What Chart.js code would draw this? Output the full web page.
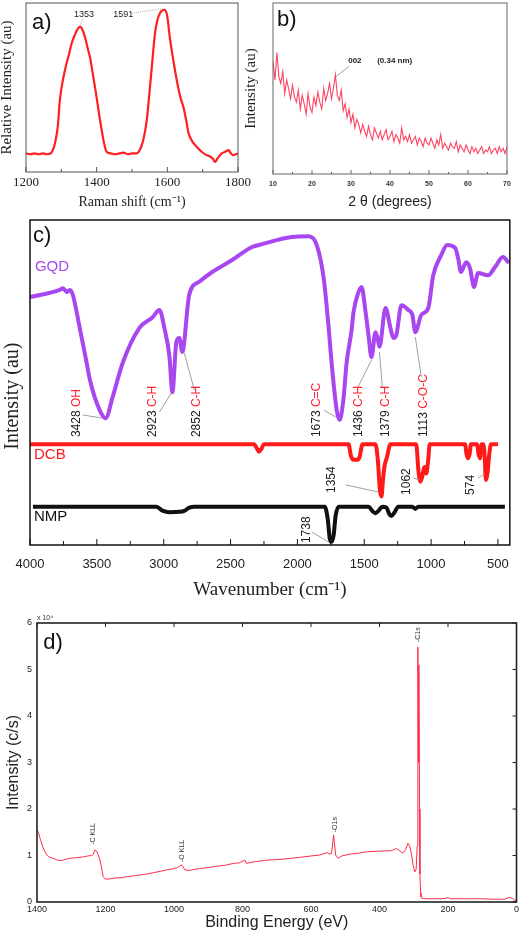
<!DOCTYPE html>
<html>
<head>
<meta charset="utf-8">
<script src="https://cdn.jsdelivr.net/npm/chart.js@4.4.1/dist/chart.umd.min.js"></script>
<style>
  html, body { margin: 0; padding: 0; background: #fff; }
  body { width: 521px; height: 941px; position: relative; overflow: hidden; }
  canvas { position: absolute; }
</style>
</head>
<body>
<canvas id="raman" width="260" height="212" style="left:0px;top:0px"></canvas>
<canvas id="xrd" width="277" height="212" style="left:244px;top:0px"></canvas>
<canvas id="ftir" width="521" height="388" style="left:0px;top:212px"></canvas>
<canvas id="xps" width="521" height="341" style="left:0px;top:600px"></canvas>
<script>
// a) Raman spectrum
const ramanShift = [1200,1212,1224,1236,1248,1260,1270,1276,1282,1290,
  1296,1305,1315,1322,1329,1338,1346,1353,1360,1368,
  1376,1381,1386,1393,1400,1407,1414,1421,1428,1440,
  1452,1464,1476,1488,1500,1512,1522,1532,1542,1549,
  1556,1565,1572,1579,1585,1591,1599,1608,1617,1627,
  1636,1646,1653,1660,1671,1683,1697,1711,1722,1730,
  1735,1742,1754,1764,1773,1780,1787,1800];
const ramanIntensity = [0.11,0.105,0.11,0.105,0.11,0.105,0.11,0.13,0.17,0.27,
  0.43,0.55,0.645,0.7,0.76,0.81,0.845,0.86,0.84,0.79,
  0.72,0.68,0.62,0.53,0.44,0.34,0.25,0.17,0.12,0.11,
  0.105,0.11,0.115,0.105,0.11,0.11,0.13,0.19,0.31,0.46,
  0.62,0.82,0.9,0.94,0.955,0.96,0.93,0.78,0.66,0.54,
  0.45,0.38,0.31,0.23,0.18,0.15,0.12,0.10,0.09,0.075,
  0.06,0.08,0.11,0.12,0.13,0.11,0.10,0.11];
const ramanTicks = [1200,1300,1400,1500,1600,1700,1800];

// b) XRD pattern
const xrdAngle = [10,10.5,11,11.5,12,12.5,13,13.5,14,14.5,
  15,15.5,16,16.5,17,17.5,18,18.5,19,19.5,
  20,20.5,21,21.5,22,22.5,23,23.5,24,24.5,
  25,25.5,26,26.5,27,27.5,28,28.5,29,29.5,
  30,30.5,31,31.5,32,32.5,33,33.5,34,34.5,
  35,35.5,36,36.5,37,37.5,38,38.5,39,39.5,
  40,40.5,41,41.5,42,42.5,43,43.5,44,44.5,
  45,45.5,46,46.5,47,47.5,48,48.5,49,49.5,
  50,50.5,51,51.5,52,52.5,53,53.5,54,54.5,
  55,55.5,56,56.5,57,57.5,58,58.5,59,59.5,
  60,60.5,61,61.5,62,62.5,63,63.5,64,64.5,
  65,65.5,66,66.5,67,67.5,68,68.5,69,69.5,
  70];
const xrdIntensity = [0.66,0.55,0.71,0.57,0.53,0.60,0.47,0.55,0.50,0.44,
  0.52,0.45,0.42,0.49,0.38,0.46,0.41,0.35,0.47,0.39,
  0.36,0.45,0.40,0.48,0.42,0.38,0.50,0.43,0.47,0.53,
  0.44,0.50,0.58,0.46,0.43,0.49,0.37,0.41,0.33,0.38,
  0.30,0.35,0.27,0.32,0.29,0.24,0.29,0.25,0.22,0.28,
  0.23,0.20,0.27,0.24,0.21,0.25,0.20,0.23,0.26,0.20,
  0.22,0.25,0.19,0.23,0.21,0.18,0.27,0.20,0.22,0.19,
  0.23,0.18,0.20,0.22,0.17,0.21,0.19,0.16,0.21,0.18,
  0.17,0.21,0.18,0.15,0.20,0.17,0.23,0.15,0.18,0.16,
  0.14,0.18,0.16,0.15,0.19,0.13,0.17,0.15,0.13,0.17,
  0.14,0.12,0.16,0.13,0.15,0.12,0.14,0.16,0.12,0.14,
  0.13,0.16,0.12,0.14,0.15,0.12,0.16,0.13,0.15,0.12,
  0.16];
const xrdTicks = [10,15,20,25,30,35,40,45,50,55,60,65,70];

// c) FTIR spectra
const gqdWavenumber = [4000,3777,3754,3724,3702,3680,3628,3576,3553,3479,
  3434,3382,3307,3181,3084,3032,2995,2957,2935,2905,
  2883,2861,2809,2734,2637,2488,2339,2287,2042,1915,
  1855,1803,1766,1744,1706,1684,1654,1632,1595,1580,
  1543,1520,1490,1468,1446,1416,1401,1386,1341,1304,
  1282,1260,1222,1170,1140,1118,1073,1021,984,924,
  880,820,798,776,738,709,679,649,574,522,
  463,418];
const gqdSignal = [76.3,78.5,79,77.8,78.5,77,66.8,56,51,41.5,
  39,45.5,56,66.8,70,72.3,66.8,58,47,62.5,
  63.7,59.4,77,81,84,87.7,91.7,92.3,94.8,95,
  92.3,82,66.8,56,41.5,38.5,45.5,56,66,71.7,
  77.8,79.4,71.7,64.6,57.8,65.5,63.7,61,72.9,66.8,
  63.7,64.6,73.8,72.3,70.8,65.5,70.8,72.9,83,89.2,
  92.3,91.4,88.3,84,87,85.2,79.4,83.7,83,85.5,
  88.6,86.8];
const dcbWavenumber = [4000,2325,2300,2287,2270,2250,1617,1600,1580,1557,
  1535,1513,1416,1398,1383,1371,1360,1349,1330,1304,
  1111,1095,1080,1066,1051,1036,1022,1010,746,735,
  724,712,701,657,645,634,622,610,600,590,
  578,567,552,500];
const dcbSignal = [31,31,29.5,28.7,29.5,31,31,27.5,26.2,26.2,
  27,31,31,26,17,14.9,20,24.1,27,31,
  31,23,19.5,21,24,22,26,31,31,28,
  26.7,28,31,31,28,26.7,31,31,28,20,
  22,27,31,31];
const nmpWavenumber = [3978,3054,3010,2957,2883,2846,2809,2771,1796,1773,
  1758,1744,1729,1714,1691,1468,1438,1416,1394,1364,
  1334,1312,1297,1274,1245,1140,1118,1096,448];
const nmpSignal = [11.8,11.8,10.6,10.1,10.2,10.5,11.5,11.8,11.8,8,
  2,1,3,9,11.8,11.8,10.4,9.8,10.5,11.8,
  11.5,9.5,8.9,10,11.8,11.8,11.1,11.8,11.8];
const ftirTicks = [4000,3750,3500,3250,3000,2750,2500,2250,2000,1750,1500,1250,1000,750,500];

// d) XPS survey
const xpsEnergy = [1400,1395,1391,1384,1377,1370,1362,1350,1340,1328,
  1316,1304,1290,1278,1265,1252,1241,1236,1231,1227,
  1223,1216,1211,1207,1202,1197,1185,1170,1155,1140,
  1119,1100,1080,1060,1040,1022,1000,990,978,968,
  955,940,925,900,875,850,827,810,793,789,
  770,750,730,700,670,633,600,575,555,545,
  540,534,528,521,510,487,460,438,410,385,
  370,360,351,341,332,324,317,312,307,302,
  297,293,290,288,286,285,283,282,280,279,
  276,260,240,220,205,200,195,170,140,120,
  98,70,50,35,20,12,6,0];
const xpsCounts = [1.55,1.48,1.37,1.2,1.08,1.0,0.96,0.93,0.9,0.89,
  0.92,0.94,0.95,0.96,0.97,0.99,1.0,1.02,1.12,1.1,
  1.05,0.9,0.72,0.55,0.5,0.49,0.5,0.52,0.52,0.54,
  0.56,0.58,0.6,0.63,0.66,0.69,0.72,0.74,0.8,0.69,
  0.68,0.7,0.72,0.74,0.77,0.79,0.83,0.84,0.9,0.83,
  0.86,0.88,0.9,0.91,0.93,0.96,0.99,1.01,1.06,1.03,
  1.04,1.44,1.01,0.94,0.99,1.03,1.05,1.08,1.09,1.1,
  1.1,1.12,1.15,1.1,1.05,1.12,1.26,1.2,1.05,0.8,
  0.65,0.7,1.2,5.48,3.0,5.1,2.0,0.6,0.2,0.11,
  0.08,0.07,0.07,0.07,0.08,0.1,0.07,0.07,0.07,0.07,
  0.07,0.06,0.06,0.06,0.1,0.08,0.04,0.03];
const xpsTicks = [1400,1200,1000,800,600,400,200,0];
const xpsCountTicks = [0,1,2,3,4,5,6];

Chart.defaults.font.family = "'Liberation Sans', Arial, sans-serif";
Chart.defaults.color = '#222';

const pts = (xs, ys) => xs.map((x, i) => ({ x: x, y: ys[i] }));
const SERIF = "'Liberation Serif', 'Times New Roman', serif";
const RED = '#ff2030';
const noGrid = { display: false, drawTicks: false };

// box round the plot + inward tick marks
const framePlugin = {
  id: 'frame',
  afterDatasetsDraw(chart, args, opts) {
    const ctx = chart.ctx, a = chart.chartArea;
    ctx.save();
    ctx.strokeStyle = opts.color;
    ctx.lineWidth = opts.width;
    ctx.strokeRect(a.left, a.top, a.right - a.left, a.bottom - a.top);
    ctx.lineWidth = 1;
    (opts.marks || []).forEach(m => {
      const scale = chart.scales[m.axis];
      scale.ticks.forEach(t => {
        const len = (t.value % m.major === 0) ? m.len : m.minorLen;
        if (!len) return;
        const p = scale.getPixelForValue(t.value);
        ctx.beginPath();
        if (m.side === 'bottom') { ctx.moveTo(p, a.bottom); ctx.lineTo(p, a.bottom - len); }
        if (m.side === 'top') { ctx.moveTo(p, a.top); ctx.lineTo(p, a.top + len); }
        if (m.side === 'right') { ctx.moveTo(a.right, p); ctx.lineTo(a.right - len, p); }
        ctx.stroke();
      });
    });
    ctx.restore();
  }
};

// text labels and leader lines placed in data units
const notesPlugin = {
  id: 'notes',
  afterDraw(chart, args, opts) {
    const ctx = chart.ctx, sx = chart.scales.x, sy = chart.scales.y;
    ctx.save();
    (opts.lines || []).forEach(l => {
      ctx.strokeStyle = l.color || '#888';
      ctx.lineWidth = l.width || 0.8;
      ctx.setLineDash(l.dash || []);
      ctx.beginPath();
      ctx.moveTo(sx.getPixelForValue(l.x1), sy.getPixelForValue(l.y1));
      ctx.lineTo(sx.getPixelForValue(l.x2), sy.getPixelForValue(l.y2));
      ctx.stroke();
    });
    ctx.setLineDash([]);
    (opts.labels || []).forEach(n => {
      ctx.save();
      ctx.translate(sx.getPixelForValue(n.x), sy.getPixelForValue(n.y));
      if (n.rotate) ctx.rotate(n.rotate * Math.PI / 180);
      ctx.font = n.font;
      ctx.textBaseline = 'middle';
      ctx.textAlign = 'left';
      const parts = n.parts || [{ text: n.text, color: n.color || '#222' }];
      const total = parts.reduce((s, p) => s + ctx.measureText(p.text).width, 0);
      let x = n.align === 'center' ? -total / 2 : 0;
      parts.forEach(p => {
        ctx.fillStyle = p.color;
        ctx.fillText(p.text, x, 0);
        x += ctx.measureText(p.text).width;
      });
      ctx.restore();
    });
    ctx.restore();
  }
};

Chart.register(framePlugin, notesPlugin);

const noChrome = { legend: { display: false }, tooltip: { enabled: false } };

function vLabel(num, group, x, y) {
  return { x: x, y: y, rotate: -90, font: '12px Liberation Sans',
    parts: [{ text: num + ' ', color: '#222' }, { text: group, color: RED }] };
}
function vNum(num, x, y) {
  return { x: x, y: y, rotate: -90, font: '12px Liberation Sans', text: num, color: '#222' };
}

// ---- a) Raman
new Chart(document.getElementById('raman'), {
  type: 'line',
  data: { datasets: [{ data: pts(ramanShift, ramanIntensity), borderColor: '#ff1f1f', borderWidth: 2.2,
    pointRadius: 0, cubicInterpolationMode: 'monotone' }] },
  options: {
    responsive: false, animation: false,
    layout: { padding: { top: 3, right: 22, left: 0, bottom: 0 } },
    plugins: Object.assign({}, noChrome, {
      frame: { color: '#555', width: 1, marks: [{ axis: 'x', side: 'bottom', major: 200, len: 5, minorLen: 3 }] },
      notes: {
        labels: [
          { text: 'a)', x: 1217, y: 0.88, font: '22px Liberation Sans', color: '#111' },
          { text: '1353', x: 1364, y: 0.933, font: '9px Liberation Sans', align: 'center' },
          { text: '1591', x: 1475, y: 0.933, font: '9px Liberation Sans', align: 'center' }
        ],
        lines: [
          { x1: 1361, y1: 0.905, x2: 1353, y2: 0.87, dash: [1, 1], color: '#999' },
          { x1: 1500, y1: 0.94, x2: 1582, y2: 0.965, dash: [1, 1], color: '#999' }
        ]
      }
    }),
    scales: {
      x: {
        type: 'linear', min: 1200, max: 1800,
        grid: noGrid, border: { display: false },
        afterBuildTicks: s => { s.ticks = ramanTicks.map(v => ({ value: v })); },
        afterFit: s => { s.height = 40; },
        ticks: { font: { family: SERIF, size: 13 }, color: '#222', padding: 3, maxRotation: 0, autoSkip: false,
          callback: v => (v % 200 === 0 ? String(v) : '') },
        title: { display: true, text: 'Raman shift (cm⁻¹)', font: { family: SERIF, size: 14 }, color: '#222',
          padding: { top: 0, bottom: 1 } }
      },
      y: {
        min: 0, max: 1,
        grid: noGrid, border: { display: false }, ticks: { display: false },
        afterFit: s => { s.width = 26; },
        title: { display: true, text: 'Relative Intensity (au)', font: { family: SERIF, size: 15, lineHeight: 1 },
          color: '#222', padding: { top: 0, bottom: 0 } }
      }
    }
  }
});

// ---- b) XRD
new Chart(document.getElementById('xrd'), {
  type: 'line',
  data: { datasets: [{ data: pts(xrdAngle, xrdIntensity), borderColor: 'rgba(255,35,70,0.85)', borderWidth: 1.1,
    pointRadius: 0, tension: 0 }] },
  options: {
    responsive: false, animation: false,
    layout: { padding: { top: 3, right: 14, left: 0, bottom: 0 } },
    plugins: Object.assign({}, noChrome, {
      frame: { color: '#666', width: 1, marks: [{ axis: 'x', side: 'bottom', major: 10, len: 4, minorLen: 2 }] },
      notes: {
        labels: [
          { text: 'b)', x: 11, y: 0.9, font: '22px Liberation Sans', color: '#111' },
          { text: '002', x: 31, y: 0.66, font: 'bold 8px Liberation Sans', align: 'center' },
          { text: '(0.34 nm)', x: 36.7, y: 0.66, font: 'bold 8px Liberation Sans' }
        ],
        lines: [{ x1: 29.5, y1: 0.63, x2: 26.2, y2: 0.57, color: '#888' }]
      }
    }),
    scales: {
      x: {
        type: 'linear', min: 10, max: 70,
        grid: noGrid, border: { display: false },
        afterBuildTicks: s => { s.ticks = xrdTicks.map(v => ({ value: v })); },
        afterFit: s => { s.height = 38; },
        ticks: { font: { size: 7, weight: 'bold' }, color: '#333', padding: 6, maxRotation: 0, autoSkip: false,
          callback: v => (v % 10 === 0 ? String(v) : '') },
        title: { display: true, text: '2 θ (degrees)', font: { size: 14 }, color: '#222', padding: { top: 0, bottom: 1 } }
      },
      y: {
        min: 0, max: 1,
        grid: noGrid, border: { display: false }, ticks: { display: false },
        afterFit: s => { s.width = 29; },
        title: { display: true, text: 'Intensity (au)', font: { family: SERIF, size: 15, lineHeight: 1 },
          color: '#222', padding: { top: 0, bottom: 0 } }
      }
    }
  }
});

// ---- c) FTIR
new Chart(document.getElementById('ftir'), {
  type: 'line',
  data: { datasets: [
    { data: pts(gqdWavenumber, gqdSignal), borderColor: '#a846f0', borderWidth: 4, pointRadius: 0,
      cubicInterpolationMode: 'monotone', borderJoinStyle: 'round' },
    { data: pts(dcbWavenumber, dcbSignal), borderColor: '#ff1a1a', borderWidth: 4, pointRadius: 0,
      cubicInterpolationMode: 'monotone', borderJoinStyle: 'round' },
    { data: pts(nmpWavenumber, nmpSignal), borderColor: '#111', borderWidth: 4, pointRadius: 0,
      cubicInterpolationMode: 'monotone', borderJoinStyle: 'round' }
  ] },
  options: {
    responsive: false, animation: false,
    layout: { padding: { top: 8, right: 9, left: 0, bottom: 0 } },
    plugins: Object.assign({}, noChrome, {
      frame: { color: '#111', width: 1.5, marks: [{ axis: 'x', side: 'bottom', major: 500, len: 6, minorLen: 4 }] },
      notes: {
        labels: [
          { text: 'c)', x: 3978, y: 95.1, font: '22px Liberation Sans', color: '#111' },
          { text: 'GQD', x: 3963, y: 85.6, font: '15px Liberation Sans', color: '#a846f0' },
          { text: 'DCB', x: 3970, y: 27.7, font: '15px Liberation Sans', color: '#ff1a1a' },
          { text: 'NMP', x: 3970, y: 8.7, font: '15px Liberation Sans', color: '#111' },
          { text: 'Intensity (au)', x: 4127, y: 45.8, rotate: -90, align: 'center', font: '20px Liberation Serif', color: '#222' },
          vLabel('3428', 'OH', 3650, 33.2),
          vLabel('2923', 'C-H', 3084, 33.2),
          vLabel('2852', 'C-H', 2756, 33.2),
          vLabel('1673', 'C=C', 1855, 33.2),
          vLabel('1436', 'C-H', 1543, 33.2),
          vLabel('1379', 'C-H', 1341, 33.2),
          vLabel('1113', 'C-O-C', 1059, 33.2),
          vNum('1354', 1744, 16),
          vNum('1062', 1185, 15.4),
          vNum('574', 701, 15.4),
          vNum('1738', 1930, 0.6)
        ],
        lines: [
          { x1: 3605, y1: 40, x2: 3464, y2: 39.1 },
          { x1: 3032, y1: 40.9, x2: 2943, y2: 46.8 },
          { x1: 2771, y1: 47.7, x2: 2846, y2: 59.1 },
          { x1: 1803, y1: 41.5, x2: 1714, y2: 39.4 },
          { x1: 1550, y1: 48.3, x2: 1446, y2: 56.9 },
          { x1: 1364, y1: 48.3, x2: 1386, y2: 59.4 },
          { x1: 1073, y1: 51.7, x2: 1118, y2: 64 },
          { x1: 1639, y1: 18.5, x2: 1394, y2: 16.3 },
          { x1: 1133, y1: 20.6, x2: 1081, y2: 20 },
          { x1: 649, y1: 20.6, x2: 612, y2: 21.5 },
          { x1: 1893, y1: 4, x2: 1766, y2: 0.9 }
        ]
      }
    }),
    scales: {
      x: {
        type: 'linear', min: 411, max: 4000, reverse: true,
        grid: noGrid, border: { display: false },
        afterBuildTicks: s => { s.ticks = ftirTicks.map(v => ({ value: v })); },
        afterFit: s => { s.height = 55; },
        ticks: { font: { size: 13 }, color: '#222', padding: 12, maxRotation: 0, autoSkip: false,
          callback: v => (v % 500 === 0 ? String(v) : '') },
        title: { display: true, text: 'Wavenumber (cm⁻¹)', font: { family: SERIF, size: 19, lineHeight: 1 }, color: '#222',
          padding: { top: 0, bottom: 0 } }
      },
      y: {
        min: 0, max: 100,
        grid: noGrid, border: { display: false }, ticks: { display: false },
        afterFit: s => { s.width = 30; }
      }
    }
  }
});

// ---- d) XPS
new Chart(document.getElementById('xps'), {
  type: 'line',
  data: { datasets: [{ data: pts(xpsEnergy, xpsCounts), borderColor: '#ff2a4a', borderWidth: 1,
    pointRadius: 0, tension: 0 }] },
  options: {
    responsive: false, animation: false,
    layout: { padding: { top: 23, right: 4, left: 0, bottom: 0 } },
    plugins: Object.assign({}, noChrome, {
      frame: { color: '#222', width: 1.6, marks: [
        { axis: 'x', side: 'top', major: 200, len: 4 },
        { axis: 'y', side: 'right', major: 1, len: 4 }
      ] },
      notes: {
        labels: [
          { text: 'd)', x: 1382, y: 5.57, font: '22px Liberation Sans', color: '#111' },
          { text: 'x 10⁴', x: 1400, y: 6.1, font: '7px Liberation Sans', color: '#333' },
          { text: '-C KLL', x: 1237, y: 1.23, rotate: -90, font: '7px Liberation Sans', color: '#333' },
          { text: '-O KLL', x: 977, y: 0.86, rotate: -90, font: '7px Liberation Sans', color: '#333' },
          { text: '-O1s', x: 531, y: 1.5, rotate: -90, font: '7px Liberation Sans', color: '#333' },
          { text: '-C1s', x: 286, y: 5.59, rotate: -90, font: '7px Liberation Sans', color: '#333' }
        ]
      }
    }),
    scales: {
      x: {
        type: 'linear', min: 0, max: 1400, reverse: true,
        grid: noGrid, border: { display: false },
        afterBuildTicks: s => { s.ticks = xpsTicks.map(v => ({ value: v })); },
        afterFit: s => { s.height = 39; },
        ticks: { font: { size: 9 }, color: '#222', padding: 2, maxRotation: 0, autoSkip: false,
          callback: v => String(v) },
        title: { display: true, text: 'Binding Energy (eV)', font: { size: 16 }, color: '#222',
          padding: { top: 0, bottom: 9 } }
      },
      y: {
        min: 0, max: 6,
        grid: noGrid, border: { display: false },
        afterBuildTicks: s => { s.ticks = xpsCountTicks.map(v => ({ value: v })); },
        afterFit: s => { s.width = 37; },
        ticks: { font: { size: 9 }, color: '#222', padding: 5, callback: v => String(v) },
        title: { display: true, text: 'Intensity (c/s)', font: { size: 16 }, color: '#222',
          padding: { top: 4, bottom: 0 } }
      }
    }
  }
});
</script>
</body>
</html>
